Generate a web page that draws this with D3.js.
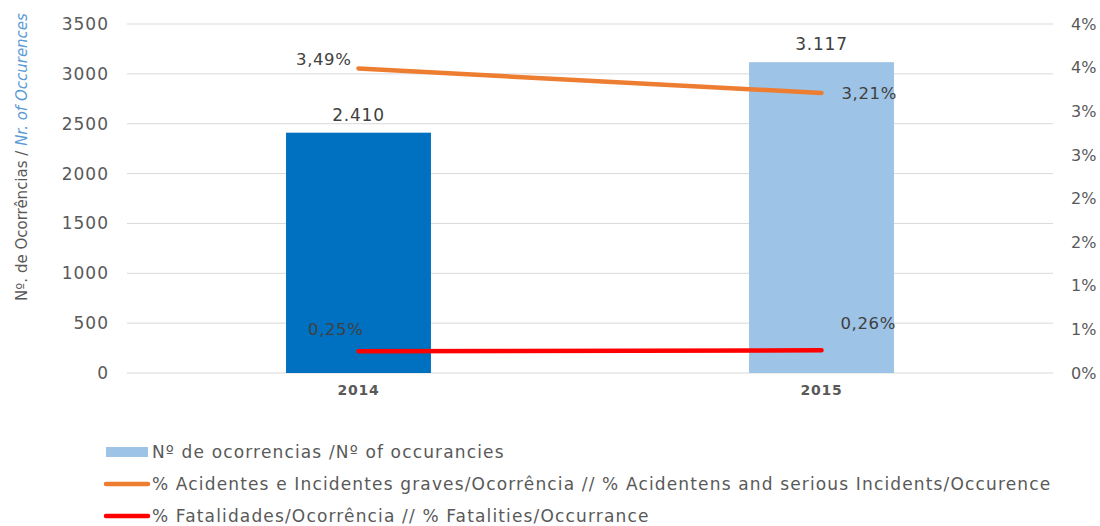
<!DOCTYPE html>
<html>
<head>
<meta charset="utf-8">
<script src="https://cdn.jsdelivr.net/npm/d3@7"></script>
<style>
  body { margin: 0; background: #fff; }
  svg { font-family: "DejaVu Sans", Verdana, sans-serif; }
</style>
</head>
<body>
<svg id="chart" width="1100" height="526"></svg>
<script>
const years = ["2014", "2015"];
const occurrences = [2410, 3117];
const accidentPct = [3.49, 3.21];
const fatalityPct = [0.25, 0.26];
const barColors = ["#0070c0", "#9dc3e6"];
const leftTicks = [0, 500, 1000, 1500, 2000, 2500, 3000, 3500];
const rightTicks = [0, 0.5, 1, 1.5, 2, 2.5, 3, 3.5, 4];
const legendLabels = [
  "Nº de ocorrencias /Nº of occurancies",
  "% Acidentes e Incidentes graves/Ocorrência // % Acidentens and serious Incidents/Occurence",
  "% Fatalidades/Ocorrência // % Fatalities/Occurrance"
];

const margin = { top: 24, right: 47, bottom: 153, left: 127 };
const width = 1100 - margin.left - margin.right;
const height = 526 - margin.top - margin.bottom;

const svg = d3.select("#chart");
const g = svg.append("g").attr("transform", `translate(${margin.left},${margin.top})`);

const x = d3.scaleBand().domain(years).range([0, width]).padding(0);
const yLeft = d3.scaleLinear().domain([0, 3500]).range([height, 0]);
const yRight = d3.scaleLinear().domain([0, 4]).range([height, 0]);
const barW = x.bandwidth() * 0.313;
const cx = d => x(d) + x.bandwidth() / 2;

// gridlines
g.append("g")
  .selectAll("line")
  .data(leftTicks)
  .join("line")
  .attr("x1", 0).attr("x2", width)
  .attr("y1", d => yLeft(d)).attr("y2", d => yLeft(d))
  .attr("stroke", "#d9d9d9").attr("stroke-width", 1);

// left axis
const leftAxis = g.append("g")
  .call(d3.axisLeft(yLeft).tickValues(leftTicks).tickSize(0).tickPadding(18)
    .tickFormat(d3.format("d")));
leftAxis.select(".domain").remove();
leftAxis.selectAll("text").attr("font-size", 17).attr("fill", "#595959")
  .attr("font-family", "DejaVu Sans").attr("letter-spacing", 1);

// right axis
const rightAxis = g.append("g").attr("transform", `translate(${width},0)`)
  .call(d3.axisRight(yRight).tickValues(rightTicks).tickSize(0).tickPadding(18)
    .tickFormat(d => Math.round(d + 0.0001) + "%"));
rightAxis.select(".domain").remove();
rightAxis.selectAll("text").attr("font-size", 16).attr("fill", "#595959")
  .attr("font-family", "DejaVu Sans");

// x axis
const xAxis = g.append("g").attr("transform", `translate(0,${height})`)
  .call(d3.axisBottom(x).tickSize(0).tickPadding(12));
xAxis.select(".domain").remove();
xAxis.selectAll("text").attr("font-size", 14).attr("font-weight", "bold")
  .attr("fill", "#595959").attr("font-family", "DejaVu Sans").attr("letter-spacing", 0.8);

// bars
g.selectAll("rect.bar")
  .data(years)
  .join("rect")
  .attr("class", "bar")
  .attr("x", d => cx(d) - barW / 2)
  .attr("width", barW)
  .attr("y", (d, i) => yLeft(occurrences[i]))
  .attr("height", (d, i) => height - yLeft(occurrences[i]))
  .attr("fill", (d, i) => barColors[i]);

g.selectAll("text.barlabel")
  .data(years)
  .join("text")
  .attr("class", "barlabel")
  .attr("x", d => cx(d))
  .attr("y", (d, i) => yLeft(occurrences[i]) - 12)
  .attr("text-anchor", "middle")
  .attr("font-size", 17).attr("fill", "#404040").attr("letter-spacing", 0.8)
  .text((d, i) => d3.format(",")(occurrences[i]).replace(",", "."));

// lines
const line = d3.line().x((d, i) => cx(years[i])).y(d => yRight(d));
g.append("path").datum(accidentPct).attr("d", line)
  .attr("fill", "none").attr("stroke", "#ed7d31").attr("stroke-width", 4.5)
  .attr("stroke-linecap", "round");
g.append("path").datum(fatalityPct).attr("d", line)
  .attr("fill", "none").attr("stroke", "#ff0000").attr("stroke-width", 4.5)
  .attr("stroke-linecap", "round");

const pctFmt = v => v.toFixed(2).replace(".", ",") + "%";
const lineLabel = (vals, offsets) => {
  g.append("g").selectAll("text")
    .data(vals)
    .join("text")
    .attr("x", (d, i) => cx(years[i]) + offsets[i][0])
    .attr("y", (d, i) => yRight(d) + offsets[i][1])
    .attr("text-anchor", (d, i) => offsets[i][2])
    .attr("font-size", 16.5).attr("fill", "#404040").attr("letter-spacing", 0.6)
    .text(d => pctFmt(d));
};
lineLabel(accidentPct, [[-7, -3, "end"], [20, 6, "start"]]);
lineLabel(fatalityPct, [[5, -16, "end"], [19, -21, "start"]]);

// left axis title
const title = svg.append("text")
  .attr("transform", "translate(27,157) rotate(-90)")
  .attr("text-anchor", "middle")
  .attr("font-size", 15).attr("fill", "#595959");
title.append("tspan").text("Nº. de Ocorrências / ");
title.append("tspan").attr("fill", "#5b9bd5").attr("font-style", "italic").text("Nr. of Occurences");

// legend
const legend = svg.append("g").attr("transform", "translate(104,452)");
const rows = legend.selectAll("g").data(legendLabels).join("g")
  .attr("transform", (d, i) => `translate(0,${i * 32})`);
rows.each(function(d, i) {
  const r = d3.select(this);
  if (i === 0) {
    r.append("rect").attr("x", 2).attr("y", -5).attr("width", 42).attr("height", 10).attr("fill", barColors[1]);
  } else {
    r.append("line").attr("x1", 2).attr("x2", 44).attr("y1", 0).attr("y2", 0)
      .attr("stroke", i === 1 ? "#ed7d31" : "#ff0000").attr("stroke-width", 4.5)
      .attr("stroke-linecap", "round");
  }
  r.append("text").attr("x", 48).attr("y", 6)
    .attr("font-size", 17).attr("fill", "#595959").attr("letter-spacing", 1.15)
    .text(d);
});
</script>
</body>
</html>
